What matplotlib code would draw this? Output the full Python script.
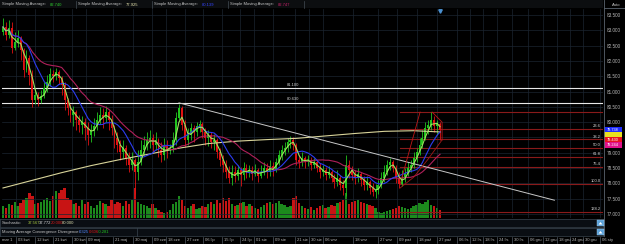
import numpy as np
import pandas as pd
import matplotlib
matplotlib.use('Agg')
import matplotlib.pyplot as plt
from matplotlib.patches import Rectangle, Polygon
from matplotlib.transforms import blended_transform_factory

plt.rcParams['font.family'] = ['Liberation Sans', 'DejaVu Sans']
FS = 3.0

# daily bars (open = previous close)
first_open = 82.94
close = [83.11, 82.85, 83.08, 82.42, 82.62, 82.75, 82.36, 81.70, 82.10, 81.54,
         80.72, 80.89, 80.72, 80.85, 81.11, 81.31, 81.57, 81.51, 81.64, 81.44,
         81.21, 80.72, 80.46, 80.23, 80.33, 80.07, 79.90, 80.00, 79.81, 79.58,
         79.74, 79.87, 80.07, 80.23, 80.13, 80.33, 80.07, 79.81, 79.48, 79.25,
         79.02, 79.15, 78.83, 78.60, 78.76, 78.37, 78.70, 79.09, 79.25, 79.42,
         79.48, 79.25, 79.42, 79.09, 78.93, 79.25, 79.09, 79.15, 79.42, 80.13,
         80.46, 79.90, 79.42, 79.58, 79.81, 79.68, 79.87, 79.94, 79.68, 79.48,
         79.58, 79.35, 79.42, 79.02, 78.76, 78.60, 78.37, 78.17, 78.37, 78.24,
         78.43, 78.27, 78.50, 78.37, 78.43, 78.30, 78.43, 78.24, 78.37, 78.50,
         78.37, 78.57, 78.43, 78.70, 78.93, 79.09, 79.15, 79.35, 79.42, 79.25,
         78.76, 78.70, 78.83, 78.70, 78.76, 78.60, 78.70, 78.50, 78.37, 78.43,
         78.27, 78.37, 78.17, 78.04, 78.17, 77.95, 77.85, 78.60, 78.43, 78.27,
         78.17, 78.30, 78.11, 77.95, 78.04, 77.85, 77.72, 77.78, 77.95, 78.17,
         78.37, 78.60, 78.70, 78.50, 78.17, 77.98, 78.17, 78.30, 78.50, 78.60,
         78.83, 79.02, 79.25, 79.48, 79.81, 79.90, 80.07, 79.87, 79.94, 79.74]
high = [83.40, 83.27, 83.34, 83.27, 82.94, 83.01, 82.81, 82.42, 82.36, 82.19,
        81.70, 81.11, 80.98, 81.05, 81.31, 81.54, 81.77, 81.70, 81.77, 81.70,
        81.51, 81.31, 80.79, 80.59, 80.53, 80.40, 80.23, 80.20, 80.13, 80.00,
        79.94, 80.13, 80.33, 80.49, 80.46, 80.53, 80.40, 80.23, 79.90, 79.68,
        79.42, 79.42, 79.25, 79.02, 79.02, 78.83, 79.09, 79.42, 79.55, 79.68,
        79.74, 79.61, 79.68, 79.48, 79.35, 79.48, 79.42, 79.29, 79.68, 80.33,
        80.59, 80.53, 80.07, 79.81, 79.97, 79.90, 80.00, 80.07, 80.00, 79.81,
        79.74, 79.68, 79.61, 79.48, 79.15, 78.93, 78.76, 78.57, 78.60, 78.57,
        78.60, 78.53, 78.70, 78.63, 78.60, 78.57, 78.63, 78.50, 78.60, 78.70,
        78.66, 78.76, 78.70, 78.83, 79.09, 79.25, 79.35, 79.48, 79.55, 79.51,
        79.32, 78.93, 79.02, 78.89, 78.93, 78.86, 78.83, 78.76, 78.66, 78.60,
        78.53, 78.57, 78.43, 78.30, 78.43, 78.27, 78.11, 78.93, 78.76, 78.57,
        78.43, 78.50, 78.37, 78.24, 78.24, 78.11, 78.01, 77.98, 78.11, 78.37,
        78.60, 78.76, 78.83, 78.76, 78.60, 78.37, 78.43, 78.50, 78.70, 78.76,
        79.02, 79.15, 79.48, 79.74, 80.00, 80.07, 80.33, 80.20, 80.07, 80.00]
low = [82.85, 82.68, 82.75, 82.26, 82.36, 82.45, 82.03, 81.47, 81.64, 81.21,
       80.49, 80.59, 80.53, 80.62, 80.79, 80.98, 81.18, 81.31, 81.38, 81.25,
       80.89, 80.40, 80.23, 80.00, 79.87, 79.74, 79.68, 79.61, 79.42, 79.25,
       79.35, 79.55, 79.74, 79.94, 79.81, 80.00, 79.74, 79.58, 79.15, 79.02,
       78.76, 78.83, 78.60, 78.37, 78.43, 77.65, 78.11, 78.60, 78.93, 79.09,
       79.15, 79.02, 79.09, 78.86, 78.70, 78.76, 78.83, 78.96, 79.02, 79.25,
       80.07, 79.74, 79.19, 79.25, 79.42, 79.35, 79.55, 79.68, 79.48, 79.25,
       79.22, 79.15, 79.09, 78.83, 78.57, 78.37, 78.17, 78.01, 77.95, 78.04,
       78.11, 77.91, 78.11, 78.17, 78.21, 78.11, 78.24, 78.04, 78.17, 78.27,
       78.17, 78.24, 78.24, 78.37, 78.60, 78.76, 78.93, 79.02, 79.15, 79.09,
       78.60, 78.50, 78.57, 78.50, 78.57, 78.43, 78.50, 78.37, 78.17, 78.24,
       78.11, 78.17, 78.04, 77.85, 77.91, 77.78, 77.62, 77.59, 78.17, 78.11,
       77.98, 78.04, 77.91, 77.78, 77.78, 77.65, 77.59, 77.52, 77.65, 77.85,
       78.04, 78.27, 78.43, 78.37, 78.01, 77.85, 77.91, 78.04, 78.24, 78.37,
       78.50, 78.70, 78.93, 79.15, 79.42, 79.61, 79.74, 79.68, 79.58, 79.42]

volume = [12, 10, 14, 13, 16, 12, 15, 18, 20, 25, 22, 14, 15, 16, 18, 20, 17, 22, 27, 25,
          28, 30, 20, 18, 14, 15, 12, 18, 14, 16, 12, 10, 13, 17, 15, 14, 12, 18, 14, 16,
          15, 12, 17, 14, 18, 30, 16, 14, 13, 12, 10, 14, 10, 8, 6, 5, 6, 8, 14, 16,
          22, 18, 12, 10, 12, 14, 9, 10, 12, 11, 14, 16, 14, 18, 15, 20, 17, 20, 14, 12,
          13, 15, 16, 12, 14, 12, 10, 9, 11, 13, 15, 16, 14, 15, 17, 14, 13, 11, 12, 20,
          22, 15, 12, 10, 9, 11, 8, 10, 12, 13, 10, 11, 13, 12, 15, 16, 18, 25, 14, 16,
          17, 18, 16, 15, 14, 13, 12, 10, 6, 5, 6, 7, 8, 9, 10, 12, 11, 10, 9, 10,
          12, 13, 15, 14, 16, 18, 13, 12, 10, 8]

# long moving average every 10 bars
ma_long_idx = [0, 10, 20, 30, 40, 50, 60, 70, 80, 90, 100, 110, 120, 130, 140, 149]
ma_long = [77.85, 78.10, 78.35, 78.58, 78.78, 78.96, 79.15, 79.30, 79.38, 79.43,
           79.47, 79.55, 79.63, 79.70, 79.72, 79.68]

hlines = [81.100, 80.630]
trend_idx = [60, 188]
trend_val = [80.63, 77.45]
fib_hi, fib_lo = 80.34, 77.97
fib_start = 135.5
fib_ratios = [0.0, 23.6, 38.2, 50.0, 61.8, 76.4, 100.0, 138.2]
# red drawing tools around the last swing
fib_leg_idx, fib_leg_val = [135.4, 142.2], [77.98, 80.33]
box_idx, box_val = [146.3, 149.7, 149.7], [80.33, 80.00, 79.42]
chan_idx, chan_val = [135.4, 140, 145, 149.7], [77.85, 78.20, 78.80, 79.42]

price_ticks = np.arange(77.0, 83.51, 0.5)
date_pos = [4.3, 10.9, 16.9, 23.4, 28.3, 37.5, 44.3, 50.8, 55.6, 62.1, 68.2, 74.7, 80.8, 85.6,
            92.1, 99.6, 104.3, 109.1, 119.3, 127.9, 134.4, 141.2, 147.97, 154.8, 159.2,
            163.7, 168.4, 173.5, 179.0, 184.1, 188.9, 193.3, 197.7, 203.5]
date_lab = ['03 kwi', '12 kwi', '21 kwi', '30 kwi', '09 maj', '21 maj', '30 maj', '09 cze',
            '18 cze', '27 cze', '06 lip', '15 lip', '24 lip', '01 sie', '09 sie', '21 sie',
            '30 sie', '06 wrz', '18 wrz', '27 wrz', '09 paź', '18 paź', '27 paź', '06 lis',
            '12 lis', '18 lis', '24 lis', '30 lis', '06 gru', '12 gru', '18 gru', '24 gru',
            '30 gru', '06 sty']

W, H = 625, 244
fig = plt.figure(figsize=(W / 100, H / 100), dpi=100, facecolor='black')


def fx(x):
    return x / W


def fy(y):
    return 1 - y / H


XL = (-0.34, 204.56)
YL = (76.869, 83.696)
rect = [fx(2), fy(218), 601 / W, 209 / H]

# volume underneath
axv = fig.add_axes(rect, zorder=0)
axv.set_facecolor('black')
axv.set_xlim(XL)
axv.set_ylim(0, 209)
axv.axis('off')

ax = fig.add_axes(rect, zorder=1)
ax.set_facecolor('none')
ax.set_xlim(XL)
ax.set_ylim(YL)
for s in ax.spines.values():
    s.set_visible(False)

x = np.arange(len(close))
c = np.array(close)
o = np.concatenate([[first_open], c[:-1]])
up = c >= o
green, red = '#22c41e', '#e01212'
cols = np.where(up, green, red)
vcols = np.where(up, '#1c8a1c', '#c81414')

axv.bar(x, volume, width=0.8, color=vcols, bottom=0)

# grid
for p in price_ticks:
    ax.axhline(p, color='#1b2430', lw=0.5, zorder=0)
for p in date_pos:
    ax.axvline(p, color='#1b2430', lw=0.5, zorder=0)

ax.vlines(x, low, high, colors=cols, lw=0.6, zorder=3)
ax.bar(x, np.maximum(np.abs(c - o), 0.02), bottom=np.minimum(c, o), width=0.65,
       color=cols, zorder=3)

s = pd.Series(close)
ax.plot(ma_long_idx, ma_long, color='#d8d49a', lw=0.8, zorder=4)
ax.plot(x, s.rolling(21, min_periods=1).mean(), color='#b0205a', lw=0.8, zorder=4)
ax.plot(x, s.rolling(9, min_periods=1).mean(), color='#2c3cf0', lw=0.8, zorder=4)
ax.plot(x, s.rolling(3, min_periods=1).mean(), color='#9ee060', lw=0.8, zorder=5)

for h, lab in zip(hlines, ['81.100', '80.630']):
    ax.axhline(h, color='#e8e8e8', lw=0.8, zorder=2)
    ax.text(99, h + 0.05, lab, color='#d0d0d0', fontsize=FS, ha='center', va='bottom')

ax.plot(trend_idx, trend_val, color='#c8c8c8', lw=0.7, zorder=4)

rng = fib_hi - fib_lo
for r in fib_ratios:
    lvl = fib_hi - rng * r / 100
    ax.plot([fib_start, XL[1]], [lvl, lvl], color='#8a1a1a', lw=0.8, zorder=2)
    if r > 0:
        ax.text(XL[1] - 0.8, lvl + 0.03, '%.1f' % r, color='#d8d8d8', fontsize=FS,
                ha='right', va='bottom')
ax.plot(fib_leg_idx, fib_leg_val, color='#c01818', lw=0.6, zorder=4)
ax.plot(box_idx, box_val, color='#c01818', lw=0.6, zorder=4)
ax.plot(chan_idx, chan_val, color='#a01818', lw=0.6, zorder=4)

ax.yaxis.tick_right()
ax.set_yticks(price_ticks)
# the 79.500 label sits behind the price tags
ax.set_yticklabels(['' if abs(p - 79.5) < 0.01 else '%.3f' % p for p in price_ticks])
ax.tick_params(axis='y', colors='#b8b8b8', labelsize=3.3, length=0, pad=3)
ax.set_xticks([])

# price tags on the right axis
tr = blended_transform_factory(fig.transFigure, ax.transData)
tag_h = 5.6 / 30.6
tags = [(79.738, '#1e2cff', '79.738'), (79.60, '#e8e020', ''), (79.430, '#e81020', '79.430'),
        (79.244, '#e0108a', '79.244')]
for val, col, lab in tags:
    ax.add_patch(Rectangle((fx(604), val - tag_h / 2), fx(18), tag_h, transform=tr,
                           fc=col, ec='none', zorder=6, clip_on=False))
    if lab:
        ax.text(fx(613), val, lab, transform=tr, fontsize=2.8, color='white',
                va='center', ha='center', zorder=7, clip_on=False)

# top legend strip
fig.patches.append(Rectangle((0, fy(8)), fx(603), 8 / H, transform=fig.transFigure,
                             fc='#0c0e10', ec='none'))
legend_vals = [('82.740', '#2ecc2e'), ('77.925', '#e8e6b0'), ('80.139', '#3344ff'),
               ('82.747', '#c8206a')]
for k, (v, col) in enumerate(legend_vals):
    x0 = 2 + 76 * k
    fig.text(fx(x0), fy(4.5), 'Simple Moving Average:', color='#c8c8c8', fontsize=FS, va='center')
    fig.text(fx(x0 + 48), fy(4.5), v, color=col, fontsize=FS, va='center')
    fig.add_artist(plt.Line2D([fx(x0 + 74)] * 2, [fy(1), fy(8)], color='#444c54', lw=0.5))
fig.text(fx(612), fy(4.5), 'Auto', color='#c8c8c8', fontsize=FS, va='center')
fig.add_artist(plt.Line2D([fx(604)] * 2, [fy(0), fy(236)], color='#5a646e', lw=0.6))
fig.add_artist(plt.Line2D([fx(604), 1], [fy(8)] * 2, color='#5a646e', lw=0.6))

# current bar marker
ax.plot([149], [83.62], marker='v', color='#4a90d0', ms=2.5, zorder=6)

# indicator strips
for (y0, y1) in [(219, 227), (228, 236)]:
    a = fig.add_axes([0, fy(y1), fx(603), (y1 - y0) / H])
    a.set_facecolor('#0a0e13')
    a.set_xticks([])
    a.set_yticks([])
    for sp in a.spines.values():
        sp.set_color('#3a4550')
        sp.set_linewidth(0.5)
    fig.patches.append(Rectangle((fx(597), fy(y1 - 1)), fx(7), 6 / H, transform=fig.transFigure,
                                 fc='#5aa0d8', ec='#a0d0f0', lw=0.3, zorder=5))
    fig.patches.append(Polygon([(fx(598.5), fy(y1 - 2.5)), (fx(602.5), fy(y1 - 2.5)),
                                (fx(600.5), fy(y1 - 5))], closed=True, transform=fig.transFigure,
                               fc='white', ec='none', zorder=6))

parts = [('Stochastic:', '#c8c8c8', 2), ('37.567', '#a8c840', 28), ('37.772', '#e0e0e0', 39),
         ('20.000', '#e01818', 51), ('80.000', '#e0e0b0', 62)]
for t, col, xx in parts:
    fig.text(fx(xx), fy(223.5), t, color=col, fontsize=FS, va='center')
parts = [('Moving Average Convergence Divergence:', '#c8c8c8', 2), ('0.325', '#5a8cff', 79),
         ('0.606', '#e01818', 89), ('-0.281', '#22c41e', 98)]
for t, col, xx in parts:
    fig.text(fx(xx), fy(232), t, color=col, fontsize=FS, va='center')
fig.add_artist(plt.Line2D([fx(137)] * 2, [fy(228), fy(236)], color='#3a4550', lw=0.5))

# date axis
axd = fig.add_axes([fx(2), 0, 601 / W, 8 / H])
axd.set_facecolor('black')
axd.set_xlim(XL)
axd.set_ylim(0, 1)
axd.axis('off')
axd.text(-0.3, 0.45, 'mar 1', color='#b8b8b8', fontsize=FS, va='center', ha='left')
for p, lab in zip(date_pos, date_lab):
    axd.plot([p, p], [0.1, 0.9], color='#6a7480', lw=0.4)
    axd.text(p + 0.7, 0.45, lab, color='#b8b8b8', fontsize=FS, va='center', ha='left')

fig.savefig('out.png', dpi=100, facecolor='black')
